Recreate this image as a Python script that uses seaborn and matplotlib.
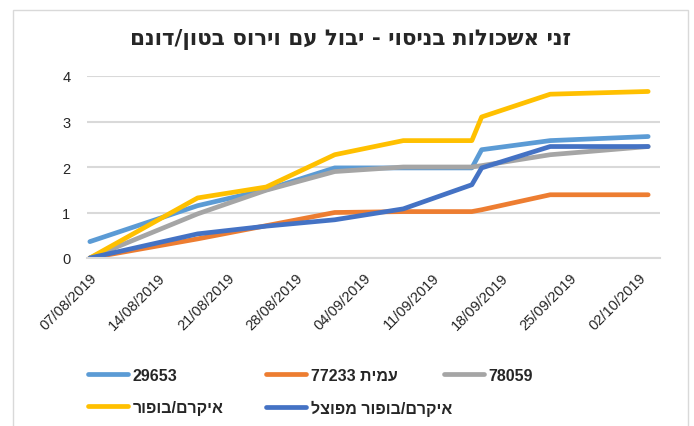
import pandas as pd
import matplotlib
matplotlib.use("Agg")
import matplotlib.pyplot as plt
import matplotlib.dates as mdates
from matplotlib.lines import Line2D
from matplotlib.patches import Rectangle
import seaborn as sns

# measurement dates
dates = ["2019-08-07", "2019-08-18", "2019-08-25", "2019-09-01", "2019-09-08",
         "2019-09-15", "2019-09-16", "2019-09-23", "2019-10-03"]

# yield (ton/dunam) per variety
v_29653 = [0.36, 1.15, 1.50, 1.98, 1.98, 1.98, 2.38, 2.58, 2.67]
v_77233 = [0.00, 0.42, 0.71, 1.00, 1.02, 1.02, 1.06, 1.39, 1.39]
v_78059 = [0.00, 0.97, 1.49, 1.90, 2.00, 2.00, 2.03, 2.27, 2.45]
v_ikram = [0.00, 1.32, 1.56, 2.27, 2.58, 2.58, 3.10, 3.60, 3.66]
v_ikram_split = [0.00, 0.53, 0.70, 0.84, 1.08, 1.61, 1.98, 2.45, 2.45]

series_names = ["29653", "עמית 77233", "78059", "איקרם/בופור", "איקרם/בופור מפוצל"]
series_values = [v_29653, v_77233, v_78059, v_ikram, v_ikram_split]
colors = ["#5B9BD5", "#ED7D31", "#A5A5A5", "#FFC000", "#4472C4"]

title = "זני אשכולות בניסוי - יבול עם וירוס בטון/דונם"
tick_dates = pd.date_range("2019-08-07", "2019-10-02", freq="7D")


def visual(s):
    # matplotlib has no bidi support: put RTL text in visual order
    out = []
    for w in s.split(" ")[::-1]:
        if any("\u0590" <= c <= "\u05ff" for c in w):
            w = w[::-1]
        out.append(w)
    return " ".join(out)


rows = []
for name, vals in zip(series_names, series_values):
    for d, v in zip(dates, vals):
        rows.append({"date": pd.Timestamp(d), "value": v, "series": name})
df = pd.DataFrame(rows)

sns.set_style("white")
plt.rcParams['font.family'] = ['Liberation Sans', 'DejaVu Sans']

W, H = 694, 427
fig = plt.figure(figsize=(W / 100, H / 100), dpi=100)
ax = fig.add_axes([87 / W, 1 - 259 / H, (660 - 87) / W, (259 - 77) / H])

palette = dict(zip(series_names, colors))
sns.lineplot(data=df, x="date", y="value", hue="series", hue_order=series_names,
             palette=palette, linewidth=3.4, solid_capstyle="round",
             ax=ax, legend=False)

ax.set_ylim(0, 4)
ax.set_yticks([0, 1, 2, 3, 4])
ax.set_xlim(pd.Timestamp("2019-08-07") - pd.Timedelta(hours=7),
            pd.Timestamp("2019-10-04") + pd.Timedelta(hours=5))
ax.set_xticks(tick_dates)
ax.xaxis.set_major_formatter(mdates.DateFormatter("%d/%m/%Y"))
plt.setp(ax.get_xticklabels(), rotation=45, ha="right", rotation_mode="anchor",
         fontsize=10.5)
plt.setp(ax.get_yticklabels(), fontsize=10.5)
ax.set_xlabel("")
ax.set_ylabel("")

ax.grid(axis="y", color="#D9D9D9", linewidth=1.5)
ax.grid(axis="x", visible=False)
ax.set_axisbelow(True)
for s in ["left", "top", "right"]:
    ax.spines[s].set_visible(False)
ax.spines["bottom"].set_color("#D9D9D9")
ax.spines["bottom"].set_linewidth(1.5)
ax.tick_params(axis="x", length=5, width=1.5, color="#D9D9D9", pad=4)
ax.tick_params(axis="y", length=0, pad=12)

fig.text(351 / W, 1 - 40 / H, visual(title), ha="center", va="center",
         fontsize=15.5, fontweight="bold", family=['DejaVu Sans'])

# legend: three columns, two rows, placed like the original
handles = [Line2D([], [], color=c, linewidth=3.4, solid_capstyle="round") for c in colors]
labels = [visual(n) for n in series_names]
columns = [[0, 3], [1, 4], [2]]
col_x = [88, 266, 444]
for cx, idx in zip(col_x, columns):
    fig.legend([handles[i] for i in idx], [labels[i] for i in idx],
               loc="upper left", bbox_to_anchor=(cx / W, 1 - 369 / H),
               frameon=False, borderpad=0, borderaxespad=0,
               handlelength=2.5, handletextpad=0.3, labelspacing=1.05,
               prop={"weight": "bold", "size": 11.5})

fig.patches.append(Rectangle((13 / W, -0.01), (688 - 13) / W, 1 - 11 / H + 0.01,
                             transform=fig.transFigure, fill=False,
                             edgecolor="#D9D9D9", linewidth=1))

fig.savefig("out.png", dpi=100)
